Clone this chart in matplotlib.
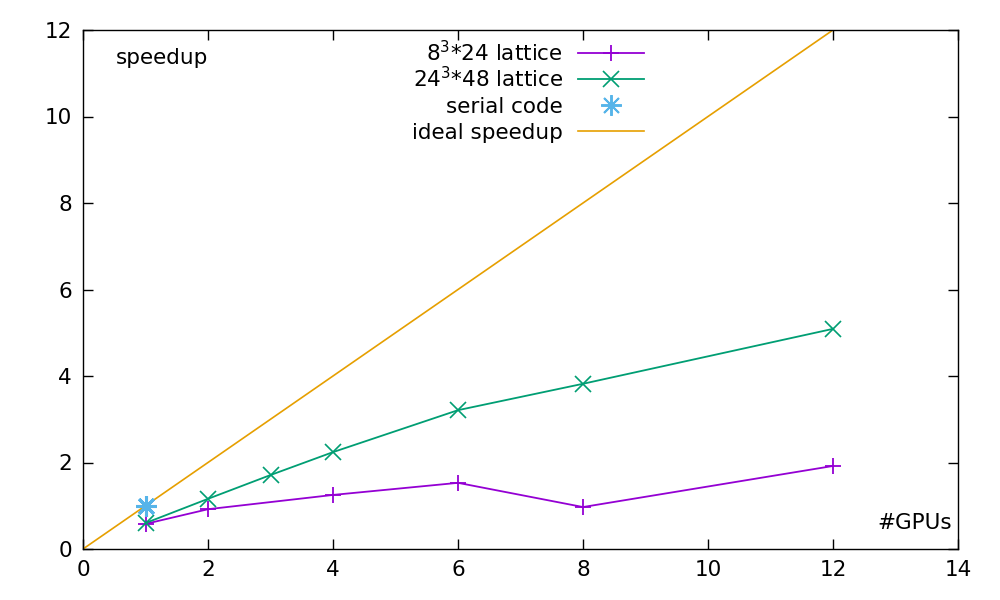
import matplotlib
matplotlib.use("Agg")
import matplotlib.pyplot as plt
from matplotlib.lines import Line2D

# speedup vs number of GPUs
gpus_small = [1, 2, 4, 6, 8, 12]
speedup_small = [0.58, 0.92, 1.25, 1.53, 0.97, 1.92]

gpus_large = [1, 2, 3, 4, 6, 8, 12]
speedup_large = [0.60, 1.16, 1.71, 2.24, 3.21, 3.82, 5.09]

gpus_serial = [1]
speedup_serial = [1.0]

ideal_x = [0, 12]
ideal_y = [0, 12]

fig = plt.figure(figsize=(10, 6), dpi=100)
ax = fig.add_axes([0.083, 0.085, 0.875, 0.865])

h1, = ax.plot(gpus_small, speedup_small, color="#9400d3", lw=1.3, marker="+",
              ms=12, mew=1.3, label=r"$8^3$*24 lattice")
h2, = ax.plot(gpus_large, speedup_large, color="#009e73", lw=1.3, marker="x",
              ms=11, mew=1.2, label=r"$24^3$*48 lattice")
h3, = ax.plot(gpus_serial, speedup_serial, ls="none", color="#56b4e9",
              marker=(8, 2, 0), ms=15, mew=2.2, label="serial code", zorder=3)
h4, = ax.plot(ideal_x, ideal_y, color="#e69f00", lw=1.2, label="ideal speedup")

ax.set_xlim(0, 14)
ax.set_ylim(0, 12)
ax.set_xticks(range(0, 15, 2))
ax.set_yticks(range(0, 13, 2))
ax.tick_params(direction="in", top=True, right=True, length=7, width=1,
               labelsize=15.5, pad=8)
for s in ax.spines.values():
    s.set_linewidth(1)

ax.text(0.037, 0.946, "speedup", transform=ax.transAxes, fontsize=15.5,
        va="center", ha="left")
ax.text(0.993, 0.05, "#GPUs", transform=ax.transAxes, fontsize=15.5,
        va="center", ha="right")

# gnuplot-style key: text right aligned, sample on the right, even rows
row_y = 0.9557
for h in [h1, h2, h3, h4]:
    ax.text(0.5486, row_y - 0.0154, h.get_label(), transform=ax.transAxes,
            fontsize=15.5, ha="right", va="baseline")
    if h.get_linestyle() != "None":
        ax.add_line(Line2D([0.5657, 0.6411], [row_y, row_y],
                           transform=ax.transAxes, color=h.get_color(),
                           lw=h.get_linewidth()))
    if h.get_marker() not in (None, "None", ""):
        ax.add_line(Line2D([0.6034], [row_y], transform=ax.transAxes,
                           ls="none", color=h.get_color(),
                           marker=h.get_marker(), ms=h.get_markersize(),
                           mew=min(h.get_markeredgewidth(), 1.4)))
    row_y -= 0.0501

fig.savefig("out.png", dpi=100)
